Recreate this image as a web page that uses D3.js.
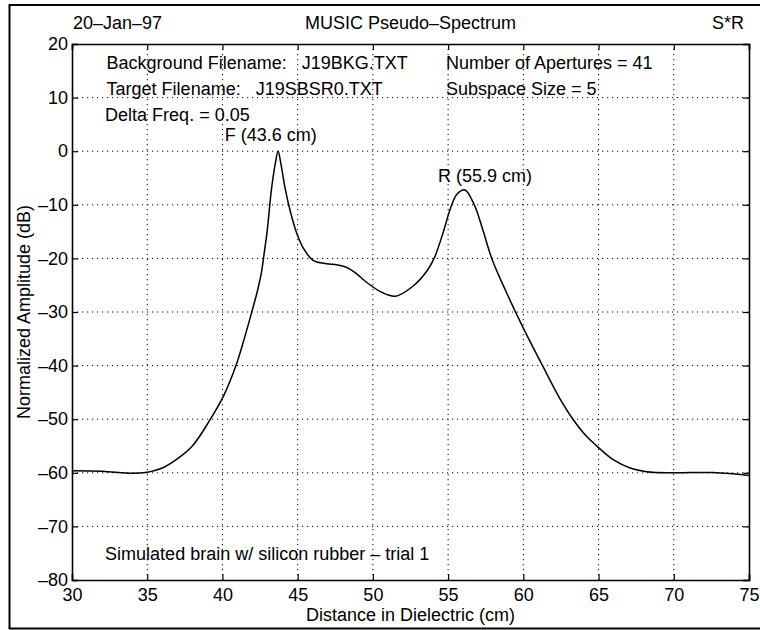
<!DOCTYPE html>
<html>
<head>
<meta charset="utf-8">
<script src="https://cdn.jsdelivr.net/npm/d3@7"></script>
<style>
  html, body { margin: 0; padding: 0; background: #fff; }
  svg text { font-family: "Liberation Sans", Arial, Helvetica, sans-serif; fill: #000; white-space: pre; }
</style>
</head>
<body>
<div id="chart"></div>
<script>
// ---- data ----
const distance = [30, 32, 34, 35, 36, 37, 38, 39.2, 40.1, 40.9, 41.5, 41.95, 42.35, 42.6, 42.8, 42.97, 43.25, 43.5, 43.7, 43.9,
  44.15, 44.5, 44.95, 45.4, 46, 46.9, 47.6, 48.2, 48.8, 49.6, 50.5, 51.5, 52.7, 53.6, 54.07, 54.6, 55.24, 55.6, 56.1, 56.74, 57.3,
  57.9, 58.9, 60, 61.33, 62.4, 63.3, 64.2, 65, 66, 67.1, 68.2, 70, 72.6, 75];
const amplitude = [-59.6, -59.7, -60.1, -59.9, -59.1, -57.4, -55.0, -50.0, -45.5, -40.0, -34.5, -30.0, -25.8, -22.5, -18.5, -15.0, -7.3, -2.5, 0, -2.6,
  -6.7, -11.1, -15.4, -18.2, -20.3, -21.0, -21.2, -21.6, -22.6, -24.5, -26.2, -27.05, -25.1, -22.3, -20.0, -15.8, -10.0, -8.0, -7.2, -10.0, -14.6,
  -20.0, -26.5, -33.0, -40.3, -46.0, -50.0, -53.2, -55.3, -57.6, -59.1, -59.8, -60.0, -59.95, -60.5];

const xTicks = [30, 35, 40, 45, 50, 55, 60, 65, 70, 75];
const yTicks = [20, 10, 0, -10, -20, -30, -40, -50, -60, -70, -80];

const headerLeft = "20–Jan–97";
const headerCenter = "MUSIC Pseudo–Spectrum";
const headerRight = "S*R";
const xTitle = "Distance in Dielectric (cm)";
const yTitle = "Normalized Amplitude (dB)";

// annotations placed in data coordinates (like MATLAB text())
const noteText = ["Background Filename:   J19BKG.TXT", "Number of Apertures = 41", "Target Filename:   J19SBSR0.TXT",
  "Subspace Size = 5", "Delta Freq. = 0.05", "F (43.6 cm)", "R (55.9 cm)", "Simulated brain w/ silicon rubber – trial 1"];
const noteX = [32.3, 54.86, 32.3, 54.86, 32.2, 40.15, 54.33, 32.2];
const noteY = [16.6, 16.6, 11.65, 11.65, 6.75, 3.0, -4.55, -75.1];

// ---- layout ----
const W = 760, H = 630;
const L = 72, R = 749, T = 44, B = 580;
const FS = 18;

const svg = d3.select("#chart").append("svg").attr("width", W).attr("height", H);

// outer frame (left, top, bottom visible)
svg.append("path").attr("d", `M${W + 5},5 H9.5 V628.5 H${W + 5}`)
  .attr("fill", "none").attr("stroke", "#000").attr("stroke-width", 2);

const x = d3.scaleLinear().domain([30, 75]).range([L, R]);
const y = d3.scaleLinear().domain([-80, 20]).range([B, T]);

const fmt = d => d < 0 ? "–" + Math.abs(d) : String(d);

// grid (dotted)
const grid = svg.append("g");
grid.selectAll("line.gx").data(xTicks.slice(1, -1)).join("line")
  .attr("x1", d => x(d)).attr("x2", d => x(d)).attr("y1", T).attr("y2", B)
  .attr("stroke", "#000").attr("stroke-width", 1).attr("stroke-dasharray", "1.2,3.8");
grid.selectAll("line.gy").data(yTicks.slice(1, -1)).join("line")
  .attr("y1", d => y(d)).attr("y2", d => y(d)).attr("x1", L).attr("x2", R)
  .attr("stroke", "#000").attr("stroke-width", 1).attr("stroke-dasharray", "1.2,3.8");

// axes with inward ticks
const axB = svg.append("g").attr("transform", `translate(0,${B})`)
  .call(d3.axisBottom(x).tickValues(xTicks).tickSize(-6).tickPadding(8).tickFormat(fmt));
const axL = svg.append("g").attr("transform", `translate(${L},0)`)
  .call(d3.axisLeft(y).tickValues(yTicks).tickSize(-6).tickPadding(4).tickFormat(fmt));
const axT = svg.append("g").attr("transform", `translate(0,${T})`)
  .call(d3.axisTop(x).tickValues(xTicks).tickSize(-6).tickFormat(""));
const axR = svg.append("g").attr("transform", `translate(${R},0)`)
  .call(d3.axisRight(y).tickValues(yTicks).tickSize(-6).tickFormat(""));
[axB, axL, axT, axR].forEach(g => {
  g.select(".domain").attr("stroke", "#000").attr("stroke-width", 1.6);
  g.selectAll(".tick line").attr("stroke", "#000").attr("stroke-width", 1.2);
  g.selectAll("text").attr("font-size", FS).attr("font-family", "Liberation Sans, Arial, sans-serif").attr("fill", "#000");
});
axB.selectAll(".tick text").attr("dy", "0.71em");

// curve
const pts = distance.map((d, i) => [d, amplitude[i]]);
svg.append("path").datum(pts)
  .attr("fill", "none").attr("stroke", "#000").attr("stroke-width", 1.5)
  .attr("d", d3.line().x(d => x(d[0])).y(d => y(d[1])).curve(d3.curveCatmullRom.alpha(0.5)));

// header
svg.append("text").attr("x", L + 1).attr("y", 29).attr("font-size", FS).text(headerLeft);
svg.append("text").attr("x", (L + R) / 2).attr("y", 29).attr("text-anchor", "middle").attr("font-size", FS).text(headerCenter);
svg.append("text").attr("x", R - 5).attr("y", 29).attr("text-anchor", "end").attr("font-size", FS).text(headerRight);

// axis titles
svg.append("text").attr("x", (L + R) / 2).attr("y", 621).attr("text-anchor", "middle").attr("font-size", FS).text(xTitle);
svg.append("text").attr("transform", `translate(30,${(T + B) / 2}) rotate(-90)`)
  .attr("text-anchor", "middle").attr("font-size", FS).text(yTitle);

// annotations
svg.append("g").selectAll("text").data(noteText).join("text")
  .attr("x", (d, i) => x(noteX[i])).attr("y", (d, i) => y(noteY[i]))
  .attr("dy", "0.35em").attr("font-size", FS).text(d => d);
</script>
</body>
</html>
